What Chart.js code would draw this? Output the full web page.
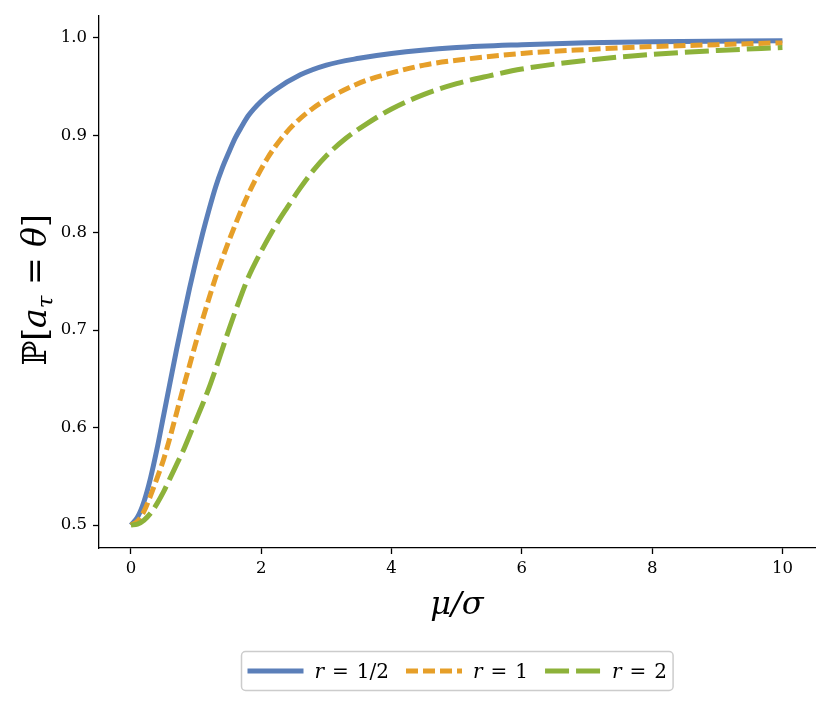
<!DOCTYPE html>
<html>
<head>
<meta charset="utf-8">
<script src="https://cdn.jsdelivr.net/npm/chart.js@4.4.1/dist/chart.umd.min.js"></script>
<style>
    html, body { margin: 0; padding: 0; background: #fff; }
    #wrap { width: 830px; height: 705px; }
</style>
</head>
<body>
<div id="wrap"><canvas id="chart" width="830" height="705"></canvas></div>
<script>
// tick values
const xTicks = [0, 2, 4, 6, 8, 10];
const yTicks = [0.5, 0.6, 0.7, 0.8, 0.9, 1.0];

const seriesLabels = ['r = 1/2', 'r = 1', 'r = 2'];

// r = 1/2
const halfX = [0, 0.1, 0.2, 0.3, 0.4, 0.5, 0.6, 0.7, 0.8, 0.9, 1.0, 1.1, 1.2, 1.3, 1.4, 1.5, 1.6, 1.7, 1.8, 2.0, 2.2, 2.6, 3.0, 3.5, 4.0, 5.0, 6.0, 7.0, 8.0, 10];
const halfY = [0.500, 0.508, 0.524, 0.548, 0.578, 0.612, 0.646, 0.680, 0.712, 0.743, 0.772, 0.799, 0.824, 0.847, 0.866, 0.882, 0.897, 0.909, 0.920, 0.935, 0.946, 0.962, 0.972, 0.979, 0.984, 0.990, 0.993, 0.995, 0.996, 0.997];

// r = 1
const oneX = [0, 0.1, 0.2, 0.3, 0.4, 0.5, 0.6, 0.7, 0.8, 0.9, 1.0, 1.1, 1.2, 1.3, 1.4, 1.5, 1.6, 1.75, 1.9, 2.1, 2.3, 2.5, 2.8, 3.2, 3.6, 4.0, 4.5, 5.0, 6.0, 7.0, 8.0, 9.0, 10];
const oneY = [0.500, 0.504, 0.514, 0.530, 0.548, 0.567, 0.590, 0.615, 0.640, 0.664, 0.688, 0.711, 0.733, 0.754, 0.773, 0.791, 0.808, 0.832, 0.853, 0.877, 0.896, 0.911, 0.928, 0.944, 0.956, 0.964, 0.972, 0.977, 0.984, 0.988, 0.991, 0.993, 0.995];

// r = 2
const twoX = [0, 0.1, 0.2, 0.3, 0.4, 0.5, 0.6, 0.7, 0.8, 0.9, 1.0, 1.1, 1.2, 1.3, 1.4, 1.5, 1.6, 1.7, 1.8, 2.0, 2.2, 2.4, 2.6, 2.8, 3.0, 3.3, 3.6, 4.0, 4.5, 5.0, 5.5, 6.0, 7.0, 8.0, 9.0, 10];
const twoY = [0.500, 0.501, 0.505, 0.512, 0.522, 0.534, 0.548, 0.562, 0.576, 0.592, 0.608, 0.624, 0.641, 0.660, 0.680, 0.700, 0.719, 0.737, 0.754, 0.781, 0.805, 0.826, 0.846, 0.864, 0.879, 0.897, 0.911, 0.927, 0.942, 0.953, 0.961, 0.968, 0.977, 0.983, 0.987, 0.990];

const xTitle = 'μ/σ';

const serif = '"DejaVu Serif", "Liberation Serif", serif';

function points(xs, ys) {
    return xs.map((x, i) => ({ x: x, y: ys[i] }));
}

// axis titles and legend with math-style text
const mathText = {
    id: 'mathText',
    afterDraw(chart) {
        const ctx = chart.ctx;
        const area = chart.chartArea;
        ctx.save();
        ctx.fillStyle = '#000';
        ctx.textBaseline = 'alphabetic';

        // x title
        ctx.font = 'italic 32px ' + serif;
        ctx.textAlign = 'center';
        ctx.fillText(xTitle, (area.left + area.right) / 2, 614);

        // y title: P[a_tau = theta]
        const up = '33px ' + serif;
        const it = 'italic 33px ' + serif;
        const sub = 'italic 23px ' + serif;
        const parts = [
            { t: 'ℙ[', f: up, dy: 0 },
            { t: 'a', f: it, dy: 0 },
            { t: 'τ', f: sub, dy: 7 },
            { t: ' = ', f: up, dy: 0 },
            { t: 'θ', f: it, dy: 0 },
            { t: ']', f: up, dy: 0 }
        ];
        let total = 0;
        parts.forEach(p => { ctx.font = p.f; p.w = ctx.measureText(p.t).width; total += p.w; });
        ctx.translate(46, (area.top + area.bottom) / 2 + 8);
        ctx.rotate(-Math.PI / 2);
        ctx.textAlign = 'left';
        let px = -total / 2;
        parts.forEach(p => {
            ctx.font = p.f;
            ctx.fillText(p.t, px, p.dy);
            px += p.w;
        });
        ctx.restore();

        // legend
        ctx.save();
        const lineLen = 56, gapLine = 11, gapItem = 17, pad = 6;
        const legFont = '20px ' + serif;
        const legIt = 'italic 20px ' + serif;
        const items = chart.data.datasets.map(ds => {
            const bits = ds.label.split(' = ');
            ctx.font = legIt;
            const wr = ctx.measureText(bits[0]).width;
            ctx.font = legFont;
            const we = ctx.measureText('=').width;
            const wn = ctx.measureText(bits[1]).width;
            const sp = 8;
            return { ds: ds, bits: bits, wr: wr, we: we, wn: wn, sp: sp, w: lineLen + gapLine + wr + sp + we + sp + wn };
        });
        let width = pad * 2 + items.reduce((a, b) => a + b.w, 0) + gapItem * (items.length - 1);
        const bx = Math.round((area.left + area.right) / 2 - width / 2) + 0.5;
        const by = 651.5, bh = 39;
        ctx.beginPath();
        ctx.roundRect(bx, by, width, bh, 4);
        ctx.fillStyle = 'rgba(255,255,255,0.8)';
        ctx.fill();
        ctx.strokeStyle = '#cccccc';
        ctx.lineWidth = 1.5;
        ctx.stroke();

        let cx = bx + pad;
        const ly = by + bh / 2;
        items.forEach(item => {
            ctx.beginPath();
            ctx.setLineDash(item.ds.borderDash || []);
            ctx.lineCap = 'butt';
            ctx.strokeStyle = item.ds.borderColor;
            ctx.lineWidth = item.ds.borderWidth;
            ctx.moveTo(cx, ly);
            ctx.lineTo(cx + lineLen, ly);
            ctx.stroke();
            ctx.setLineDash([]);
            let tx = cx + lineLen + gapLine;
            const base = ly + 7;
            ctx.fillStyle = '#000';
            ctx.textAlign = 'left';
            ctx.font = legIt;
            ctx.fillText(item.bits[0], tx, base);
            tx += item.wr + item.sp;
            ctx.font = legFont;
            ctx.fillText('=', tx, base);
            tx += item.we + item.sp;
            ctx.fillText(item.bits[1], tx, base);
            cx += item.w + gapItem;
        });
        ctx.restore();
    }
};

const axisGrid = {
    display: true,
    drawOnChartArea: false,
    drawTicks: true,
    tickLength: 6,
    tickWidth: 1.3,
    tickColor: '#000'
};

new Chart(document.getElementById('chart'), {
    type: 'line',
    data: {
        datasets: [{
            label: seriesLabels[0],
            data: points(halfX, halfY),
            borderColor: '#5b7fb9',
            borderWidth: 5,
            order: 3
        },
        {
            label: seriesLabels[1],
            data: points(oneX, oneY),
            borderColor: '#e69f29',
            borderWidth: 5,
            borderDash: [12, 5],
            order: 2
        },
        {
            label: seriesLabels[2],
            data: points(twoX, twoY),
            borderColor: '#8db23a',
            borderWidth: 5,
            borderDash: [24, 7],
            order: 1
        }]
    },
    options: {
        responsive: false,
        animation: false,
        elements: {
            point: { radius: 0 },
            line: { cubicInterpolationMode: 'monotone', borderCapStyle: 'butt', borderJoinStyle: 'round', fill: false }
        },
        layout: {
            padding: { left: 0, right: 15, top: 14, bottom: 117 }
        },
        scales: {
            x: {
                type: 'linear',
                min: -0.49,
                max: 10.5,
                afterBuildTicks: s => { s.ticks = xTicks.map(v => ({ value: v })); },
                afterFit: s => { s.height = 40; },
                grid: axisGrid,
                border: { display: true, color: '#000', width: 1.3 },
                ticks: {
                    color: '#000',
                    padding: 5,
                    maxRotation: 0,
                    font: { family: serif, size: 16.5 },
                    callback: v => String(v)
                }
            },
            y: {
                type: 'linear',
                min: 0.4765,
                max: 1.0225,
                afterBuildTicks: s => { s.ticks = yTicks.map(v => ({ value: v })); },
                afterFit: s => { s.width = 99; },
                grid: axisGrid,
                border: { display: true, color: '#000', width: 1.3 },
                ticks: {
                    color: '#000',
                    padding: 6,
                    font: { family: serif, size: 16.5 },
                    callback: v => v.toFixed(1)
                }
            }
        },
        plugins: {
            legend: { display: false },
            tooltip: { enabled: false }
        }
    },
    plugins: [mathText]
});
</script>
</body>
</html>
